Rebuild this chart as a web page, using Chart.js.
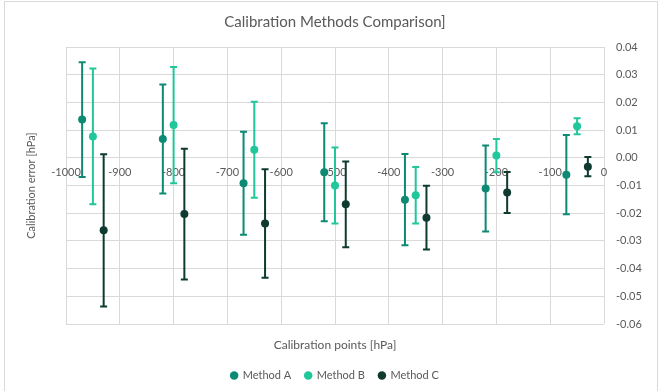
<!DOCTYPE html>
<html>
<head>
<meta charset="utf-8">
<script src="https://cdn.jsdelivr.net/npm/chart.js@4/dist/chart.umd.min.js"></script>
<style>
  html, body { margin: 0; padding: 0; background: #ffffff; }
  #wrap { width: 660px; height: 391px; position: relative; }
</style>
</head>
<body>
<div id="wrap"><canvas id="c" width="660" height="391"></canvas></div>
<script>
// ---- data ----
const seriesNames = ['Method A', 'Method B', 'Method C'];
const xA = [-970, -820, -670, -520, -370, -220, -70];
const xB = [-950, -800, -650, -500, -350, -200, -50];
const xC = [-930, -780, -630, -480, -330, -180, -30];
const yA = [0.0138, 0.0068, -0.0092, -0.0052, -0.0151, -0.0111, -0.0061];
const yB = [0.0077, 0.0118, 0.0029, -0.0100, -0.0135, 0.0008, 0.0114];
const yC = [-0.0262, -0.0203, -0.0237, -0.0168, -0.0216, -0.0125, -0.0032];
const errA = [0.0207, 0.0197, 0.0186, 0.0177, 0.0165, 0.0155, 0.0143];
const errB = [0.0245, 0.0210, 0.0173, 0.0137, 0.0102, 0.0060, 0.0029];
const errC = [0.0275, 0.0236, 0.0196, 0.0155, 0.0115, 0.0074, 0.0035];

const colors = ['#0c8a73', '#20c79a', '#0e3a30'];
const FONT = 'Lato, "Open Sans", sans-serif';
const TXT = '#595959';
const GRID = '#d9d9d9';

function pts(xs, ys) { return xs.map((x, i) => ({ x: x, y: ys[i] })); }
const xsAll = [xA, xB, xC];
const ysAll = [yA, yB, yC];
const errAll = [errA, errB, errC];

const datasets = seriesNames.map((name, k) => ({
  label: name,
  data: pts(xsAll[k], ysAll[k]),
  backgroundColor: colors[k],
  borderColor: colors[k],
  pointRadius: 4,
  pointHoverRadius: 4,
  pointBorderWidth: 0,
  pointStyle: 'circle',
  showLine: false,
  xAxisID: 'x',
  yAxisID: 'y'
}));

const errorBars = {
  id: 'errorBars',
  beforeDatasetsDraw(chart) {
    const ctx = chart.ctx;
    const xs = chart.scales.x, ys = chart.scales.y;
    ctx.save();
    datasets.forEach((ds, k) => {
      ctx.strokeStyle = colors[k];
      ctx.lineWidth = 2;
      xsAll[k].forEach((xv, j) => {
        const px = xs.getPixelForValue(xv);
        const top = ys.getPixelForValue(ysAll[k][j] + errAll[k][j]);
        const bot = ys.getPixelForValue(ysAll[k][j] - errAll[k][j]);
        ctx.beginPath();
        ctx.moveTo(px, top); ctx.lineTo(px, bot);
        ctx.moveTo(px - 3.5, top); ctx.lineTo(px + 3.5, top);
        ctx.moveTo(px - 3.5, bot); ctx.lineTo(px + 3.5, bot);
        ctx.stroke();
      });
    });
    ctx.restore();
  }
};

const frame = {
  id: 'frame',
  beforeDraw(chart) {
    const ctx = chart.ctx;
    ctx.save();
    ctx.fillStyle = '#ffffff';
    ctx.fillRect(0, 0, chart.width, chart.height);
    ctx.strokeStyle = '#d9d9d9';
    ctx.lineWidth = 1;
    ctx.strokeRect(4.5, 1.5, 653, 420);
    ctx.restore();
  }
};

new Chart(document.getElementById('c'), {
  type: 'scatter',
  data: { datasets: datasets },
  plugins: [frame, errorBars],
  options: {
    responsive: false,
    animation: false,
    events: [],
    layout: { padding: { left: 0, right: 0, top: 0, bottom: 0 } },
    plugins: {
      title: {
        display: true,
        fullSize: false,
        text: 'Calibration Methods Comparison]',
        color: TXT,
        font: { family: FONT, size: 15, weight: 'normal' },
        padding: { top: 13, bottom: 16 }
      },
      legend: {
        position: 'bottom',
        fullSize: false,
        labels: {
          usePointStyle: true,
          pointStyle: 'circle',
          boxWidth: 6,
          boxHeight: 6,
          color: TXT,
          font: { family: FONT, size: 11 },
          padding: 14
        }
      },
      tooltip: { enabled: false }
    },
    scales: {
      x: {
        type: 'linear',
        min: -1000, max: 0,
        position: { y: 0 },
        grid: { color: GRID, lineWidth: 1, drawTicks: false },
        border: { display: false },
        ticks: {
          stepSize: 100,
          color: TXT,
          padding: 8,
          maxRotation: 0,
          font: { family: FONT, size: 11 },
          callback: v => String(v)
        }
      },
      x2: {
        type: 'linear',
        position: 'bottom',
        grid: { display: false, drawTicks: false },
        border: { display: false },
        ticks: { display: false },
        title: {
          display: true,
          text: 'Calibration points [hPa]',
          color: TXT,
          font: { family: FONT, size: 12 },
          padding: { top: 0, bottom: 4 }
        },
        afterFit: s => { s.height = 32; }
      },
      y: {
        type: 'linear',
        min: -0.06, max: 0.04,
        position: 'right',
        grid: { color: GRID, lineWidth: 1, drawTicks: false },
        border: { display: false },
        ticks: {
          stepSize: 0.01,
          color: TXT,
          padding: 12,
          font: { family: FONT, size: 11 },
          callback: v => Number(v).toFixed(2)
        },
        afterFit: s => { s.width = 56; }
      },
      y2: {
        type: 'linear',
        position: 'left',
        grid: { display: false, drawTicks: false },
        border: { display: false },
        ticks: { display: false },
        title: {
          display: true,
          text: 'Calibration error [hPa]',
          color: TXT,
          font: { family: FONT, size: 11 },
          padding: { top: 25, bottom: 0 }
        },
        afterFit: s => { s.width = 66; }
      }
    }
  }
});
</script>
</body>
</html>
